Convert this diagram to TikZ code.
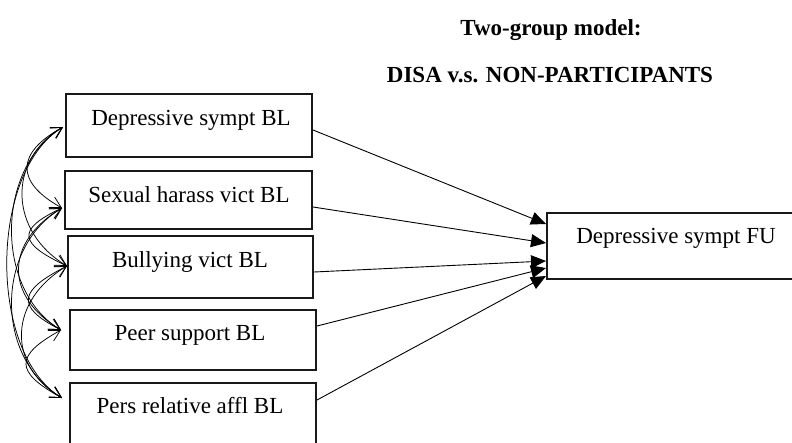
\documentclass[tikz,border=0pt]{standalone}
\usepackage{fontspec}
\setmainfont{Liberation Serif}
\usetikzlibrary{arrows.meta}
\begin{document}
\begin{tikzpicture}[x=1pt,y=1pt,
  box/.style={draw=black!90, line width=2pt, inner sep=0pt},
  lbl/.style={anchor=base, inner sep=0pt, font=\fontsize{23}{26}\selectfont},
  ttl/.style={anchor=base, inner sep=0pt, font=\fontsize{23}{26}\selectfont\bfseries},
  path/.style={draw, line width=0.9pt, -{Triangle[length=15pt,width=13pt]}},
  cov/.style={draw, line width=0.75pt, {Straight Barb[length=11pt,width=12pt]}-{Straight Barb[length=11pt,width=12pt]}}
]
\clip (0,0) rectangle (792,-442);
% boxes
\node[box, minimum width=246pt, minimum height=63pt] (b1) at (189,-125.5) {};
\node[box, minimum width=247pt, minimum height=58pt] (b2) at (188.5,-200) {};
\node[box, minimum width=245pt, minimum height=62pt] (b3) at (190.5,-267) {};
\node[box, minimum width=246pt, minimum height=60pt] (b4) at (193,-340) {};
\node[box, minimum width=246pt, minimum height=77pt] (b5) at (193,-421.5) {};
\node[box, minimum width=263pt, minimum height=66pt] (fu) at (678.5,-246) {};
% labels
\node[lbl] (l1) at (191,-125) {Depressive sympt BL};
\node[lbl] (l2) at (189,-202) {Sexual harass vict BL};
\node[lbl] (l3) at (190,-267) {Bullying vict BL};
\node[lbl] (l4) at (190,-340) {Peer support BL};
\node[lbl] (l5) at (190,-413) {Pers relative affl BL};
\node[lbl] (lf) at (676,-243) {Depressive sympt FU};
\node[ttl] (t1) at (551,-35) {Two-group model:};
\node[ttl] (t2) at (550,-82) {DISA v.s. NON-PARTICIPANTS};
% paths to FU
\path[path] ([yshift=-4.5pt]b1.east) -- ([yshift=22pt]fu.west);
\path[path] ([yshift=-7pt]b2.east) -- ([yshift=3pt]fu.west);
\path[path] ([yshift=-5pt]b3.east) -- ([yshift=-15pt]fu.west);
\path[path] ([yshift=14pt]b4.east) -- ([yshift=-22pt]fu.west);
\path[path] ([yshift=21.5pt]b5.east) -- ([yshift=-30pt]fu.west);
% covariance tips
\coordinate (p1) at (63,-127);
\coordinate (p2) at (62,-208);
\coordinate (p3) at (67,-266);
\coordinate (p4) at (61,-330);
\coordinate (p5) at (62,-398);
% adjacent
\path[cov] (p1) .. controls +(-47,-26) and +(-47,26) .. (p2);
\path[cov] (p2) .. controls +(-47,-22) and +(-47,22) .. (p3);
\path[cov] (p3) .. controls +(-47,-24) and +(-47,24) .. (p4);
\path[cov] (p4) .. controls +(-47,-26) and +(-47,26) .. (p5);
% distance 2
\path[cov] (p1) .. controls +(-57,-34) and +(-57,34) .. (p3);
\path[cov] (p2) .. controls +(-57,-34) and +(-57,34) .. (p4);
\path[cov] (p3) .. controls +(-57,-34) and +(-57,34) .. (p5);
% distance 3
\path[cov] (p1) .. controls +(-67,-40) and +(-67,40) .. (p4);
\path[cov] (p2) .. controls +(-67,-40) and +(-67,40) .. (p5);
% distance 4
\path[cov] (p1) .. controls +(-74,-45) and +(-74,45) .. (p5);
\end{tikzpicture}
\end{document}
